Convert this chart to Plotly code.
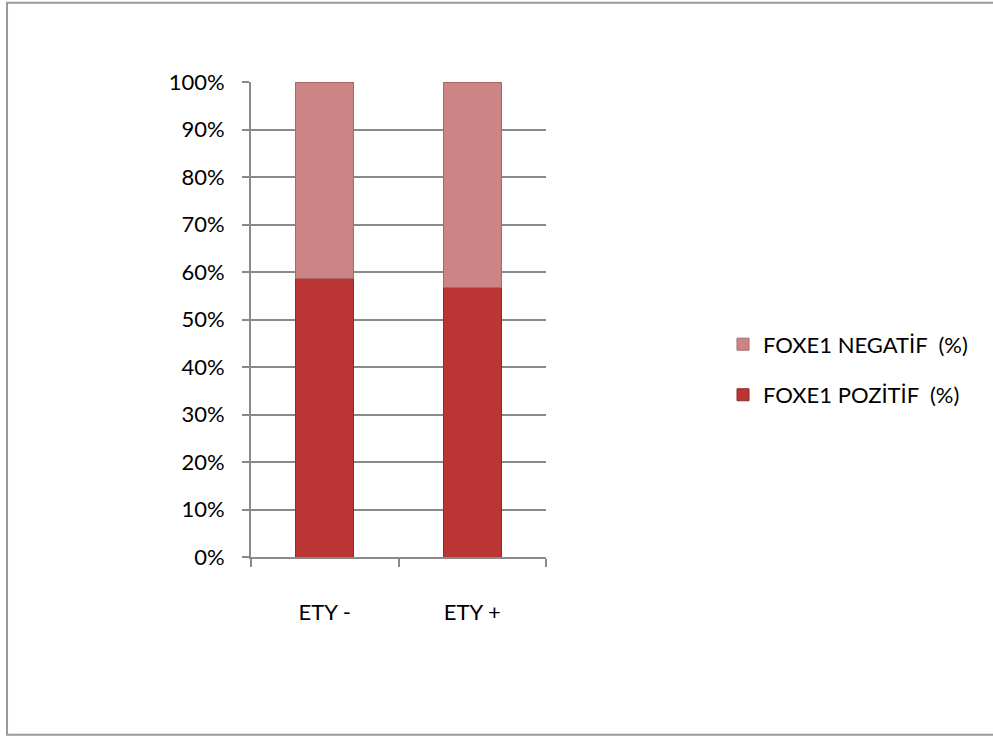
import plotly.graph_objects as go

# Stacked 100% bars: FOXE1 status by ETY group
categories = ["ETY -", "ETY +"]
pozitif = [58.6, 56.8]
negatif = [41.4, 43.2]
y_ticks = [0, 10, 20, 30, 40, 50, 60, 70, 80, 90, 100]
y_tick_labels = [f"{v}%" for v in y_ticks]

font_family = "Lato, 'Open Sans', sans-serif"
grid_color = "#8a8a8a"

fig = go.Figure()
fig.add_trace(go.Bar(
    x=categories, y=pozitif, name="FOXE1 POZİTİF  (%)",
    legendgroup="poz", legendrank=2,
    marker=dict(color="#bb3535", line=dict(color="#8e2a2a", width=1)),
    width=0.39,
))
fig.add_trace(go.Bar(
    x=categories, y=negatif, name="FOXE1 NEGATİF  (%)",
    legendgroup="neg", legendrank=1,
    marker=dict(color="#cd8484", line=dict(color="#a86868", width=1)),
    width=0.39,
))

fig.update_layout(
    width=993, height=737,
    barmode="stack",
    paper_bgcolor="white", plot_bgcolor="white",
    margin=dict(l=251, r=447, t=82, b=180),
    font=dict(family=font_family, size=22, color="#000000"),
    showlegend=True,
    legend=dict(
        x=1.60, y=0.394, xanchor="left", yanchor="middle",
        traceorder="grouped", tracegroupgap=19,
        font=dict(size=22), itemwidth=30,
    ),
    xaxis=dict(
        showgrid=False, showline=True, linecolor=grid_color, linewidth=2,
        ticks="outside", ticklen=8, tickcolor=grid_color, tickwidth=2,
        tickson="boundaries", ticklabelstandoff=35,
    ),
    yaxis=dict(
        range=[0, 100], tickvals=y_ticks, ticktext=y_tick_labels,
        showgrid=True, gridcolor=grid_color, gridwidth=1.5,
        showline=True, linecolor=grid_color, linewidth=2,
        ticks="outside", ticklen=7, tickcolor=grid_color, tickwidth=2,
        ticklabelstandoff=13, zeroline=False,
    ),
    shapes=[dict(
        type="rect", xref="paper", yref="paper",
        x0=-0.827, x1=2.56, y0=-0.374, y1=1.167,
        line=dict(color="#9a9a9a", width=2), fillcolor="rgba(0,0,0,0)",
        layer="below",
    )],
)

fig.write_html("out.html")
